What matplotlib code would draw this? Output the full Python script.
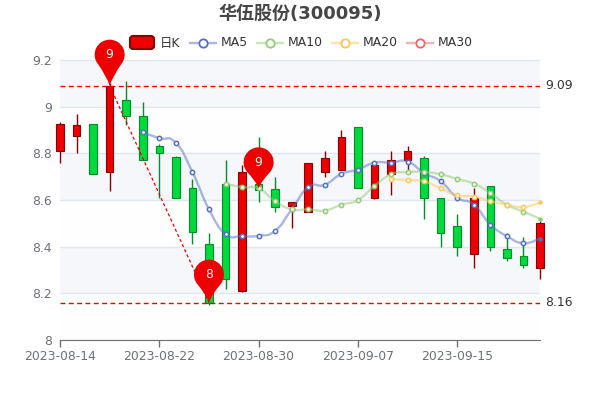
import numpy as np
import matplotlib
matplotlib.use("Agg")
import matplotlib.pyplot as plt
from matplotlib.path import Path
from matplotlib.patches import PathPatch, FancyBboxPatch
from matplotlib.transforms import Affine2D, ScaledTranslation

plt.rcParams['font.family'] = ['DejaVu Sans', 'Noto Sans CJK SC']

# daily candles
opens = [8.81, 8.875, 8.925, 8.72, 9.03, 8.96, 8.83, 8.785, 8.65, 8.41,
         8.67, 8.21, 8.67, 8.645, 8.575, 8.55, 8.72, 8.73, 8.915, 8.61,
         8.71, 8.77, 8.78, 8.61, 8.49, 8.37, 8.66, 8.39, 8.36, 8.31]
closes = [8.925, 8.92, 8.71, 9.09, 8.96, 8.77, 8.80, 8.61, 8.465, 8.16,
          8.26, 8.72, 8.645, 8.57, 8.59, 8.76, 8.78, 8.87, 8.65, 8.75,
          8.77, 8.81, 8.61, 8.46, 8.40, 8.61, 8.40, 8.35, 8.32, 8.50]
lows = [8.76, 8.80, 8.71, 8.64, 8.92, 8.77, 8.61, 8.61, 8.41, 8.15,
        8.22, 8.205, 8.59, 8.55, 8.48, 8.55, 8.70, 8.73, 8.65, 8.605,
        8.62, 8.72, 8.52, 8.40, 8.36, 8.31, 8.38, 8.34, 8.31, 8.26]
highs = [8.935, 8.97, 8.925, 9.10, 9.11, 9.02, 8.84, 8.79, 8.69, 8.46,
         8.77, 8.75, 8.87, 8.70, 8.59, 8.76, 8.81, 8.90, 8.915, 8.75,
         8.81, 8.83, 8.79, 8.61, 8.54, 8.65, 8.66, 8.46, 8.44, 8.51]

ma5 = [8.89, 8.865, 8.845, 8.72, 8.56, 8.455, 8.445, 8.447, 8.468, 8.56, 8.655,
       8.665, 8.712, 8.73, 8.76, 8.76, 8.765, 8.715, 8.68, 8.61, 8.58, 8.495,
       8.445, 8.415, 8.435]
ma10 = [8.67, 8.655, 8.65, 8.595, 8.56, 8.56, 8.555, 8.58, 8.60, 8.66, 8.71,
        8.72, 8.72, 8.71, 8.69, 8.67, 8.63, 8.58, 8.55, 8.52]
ma20 = [8.69, 8.685, 8.68, 8.65, 8.62, 8.615, 8.595, 8.58, 8.57, 8.59]

tick_pos = [0, 6, 12, 18, 24]
tick_labels = ['2023-08-14', '2023-08-22', '2023-08-30', '2023-09-07', '2023-09-15']
y_ticks = [8, 8.2, 8.4, 8.6, 8.8, 9, 9.2]
y_labels = ['8', '8.2', '8.4', '8.6', '8.8', '9', '9.2']

max_idx, max_val = 3, 9.09
min_idx, min_val = 9, 8.16
pins = [(3, 9.09, '9', 46), (9, 8.16, '8', 43), (12, 8.65, '9', 41)]

RED, RED_EDGE = '#ec0000', '#8a0000'
GREEN, GREEN_EDGE = '#00da3c', '#008f28'
TEXT = '#6e7079'
FS = 8.9


def smooth_path(xs, ys, k=0.25):
    # cubic bezier through the points, similar to echarts smooth lines
    pts = list(zip(xs, ys))
    verts = [pts[0]]
    codes = [Path.MOVETO]
    for i in range(len(pts) - 1):
        p0 = pts[max(i - 1, 0)]
        p1 = pts[i]
        p2 = pts[i + 1]
        p3 = pts[min(i + 2, len(pts) - 1)]
        c1 = (p1[0] + (p2[0] - p0[0]) * k, p1[1] + (p2[1] - p0[1]) * k)
        c2 = (p2[0] - (p3[0] - p1[0]) * k, p2[1] - (p3[1] - p1[1]) * k)
        verts += [c1, c2, p2]
        codes += [Path.CURVE4] * 3
    return Path(verts, codes)


def pin_path(r, h):
    # teardrop in pixels, tip at the origin
    a = Path.arc(-40, 220)
    cy = h - r
    v = a.vertices * r + [0, cy]
    verts = list(v) + [(-r * 0.18, cy * 0.28), (0, 0), (r * 0.18, cy * 0.28), tuple(v[0])]
    codes = list(a.codes) + [Path.CURVE3] * 4
    return Path(verts, codes)


fig = plt.figure(figsize=(6, 4), dpi=100)
ax = fig.add_axes([60 / 600, 60 / 400, 480 / 600, 280 / 400])
ax.set_xlim(0, 29)
ax.set_ylim(8, 9.2)

# alternating bands and grid
for i in range(len(y_ticks) - 1):
    c = '#d2dbee' if i % 2 else '#fafafa'
    ax.axhspan(y_ticks[i], y_ticks[i + 1], color=c, alpha=0.2, lw=0, zorder=0)
ax.set_yticks(y_ticks)
ax.set_yticklabels(y_labels)
ax.set_xticks(tick_pos)
ax.set_xticklabels(tick_labels)
ax.grid(axis='y', color='#e0e6f1', lw=1, zorder=1)
for s in ['top', 'right', 'left']:
    ax.spines[s].set_visible(False)
ax.spines['bottom'].set_color(TEXT)
ax.tick_params(axis='y', length=0, labelsize=FS, labelcolor=TEXT, pad=6)
ax.tick_params(axis='x', length=5, width=1, color=TEXT, labelsize=FS, labelcolor=TEXT, pad=2.5)

# candles
for i in range(len(opens)):
    up = closes[i] >= opens[i]
    face, edge = (RED, RED_EDGE) if up else (GREEN, GREEN_EDGE)
    top, bot = max(opens[i], closes[i]), min(opens[i], closes[i])
    ax.vlines(i, top, highs[i], color=edge, lw=1, zorder=3, clip_on=False)
    ax.vlines(i, lows[i], bot, color=edge, lw=1, zorder=3, clip_on=False)
    ax.bar(i, top - bot, bottom=bot, width=0.46, color=face, edgecolor=edge, lw=0.8,
           zorder=4, clip_on=False)

# moving averages
for vals, col in [(ma5, '#5470c6'), (ma10, '#91cc75'), (ma20, '#fac858')]:
    xs = np.arange(30 - len(vals), 30)
    ax.add_patch(PathPatch(smooth_path(xs, vals), fc='none', ec=col, lw=1.7, alpha=0.5,
                           zorder=5, clip_on=False))
    ax.plot(xs[:-1], vals[:-1], ls='none', marker='o', ms=3.1, mfc='white', mec=col, mew=1.1,
            zorder=6, clip_on=False)
    ax.plot(xs[-1:], vals[-1:], ls='none', marker='o', ms=3.2, mfc=col, mec=col, mew=0,
            zorder=6, clip_on=False)

# mark lines
ax.axhline(max_val, color='#ec0000', lw=1, ls=(0, (3.5, 2.5)), zorder=7)
ax.axhline(min_val, color='#ec0000', lw=1, ls=(0, (3.5, 2.5)), zorder=7)
ax.plot([max_idx, min_idx], [max_val, min_val], color='#ec0000', lw=0.9,
        ls=(0, (2.5, 2)), zorder=7)
ax.annotate('9.09', (29, max_val), xytext=(3.6, 0), textcoords='offset points', color='#333333',
            fontsize=FS, va='center', ha='left')
ax.annotate('8.16', (29, min_val), xytext=(3.6, 0), textcoords='offset points', color='#333333',
            fontsize=FS, va='center', ha='left')

# mark points
for idx, val, label, h in pins:
    trans = Affine2D() + ScaledTranslation(idx, val, ax.transData)
    ax.add_patch(PathPatch(pin_path(15, h), fc='#ec0000', ec='none', transform=trans,
                           zorder=8, clip_on=False))
    ax.annotate(label, (idx, val), xytext=(0, (h - 15) * 0.72), textcoords='offset points',
                color='white', fontsize=FS, ha='center', va='center', zorder=9)

# title and legend in pixel coordinates
ov = fig.add_axes([0, 0, 1, 1], facecolor='none')
ov.set_xlim(0, 600)
ov.set_ylim(400, 0)
ov.axis('off')
ov.text(300, 14, '华伍股份(300095)', color='#464646', fontsize=13, fontweight='bold',
        ha='center', va='center')
ov.add_patch(FancyBboxPatch((130, 36), 24, 13, boxstyle='round,pad=0,rounding_size=3',
                            fc=RED, ec=RED_EDGE, lw=1.5, mutation_aspect=1))
ov.text(160, 43, '日K', color='#333333', fontsize=FS, ha='left', va='center')
legend_items = [('MA5', 190, '#5470c6'), ('MA10', 257, '#91cc75'),
                ('MA20', 332, '#fac858'), ('MA30', 407, '#ee6666')]
for name, x0, col in legend_items:
    ov.plot([x0, x0 + 26], [43, 43], color=col, lw=1.7, alpha=0.5)
    ov.plot([x0 + 13], [43], marker='o', ms=6, mfc='white', mec=col, mew=1.3)
    ov.text(x0 + 31, 43, name, color='#333333', fontsize=FS, ha='left', va='center')

fig.savefig('out.png', dpi=100)
